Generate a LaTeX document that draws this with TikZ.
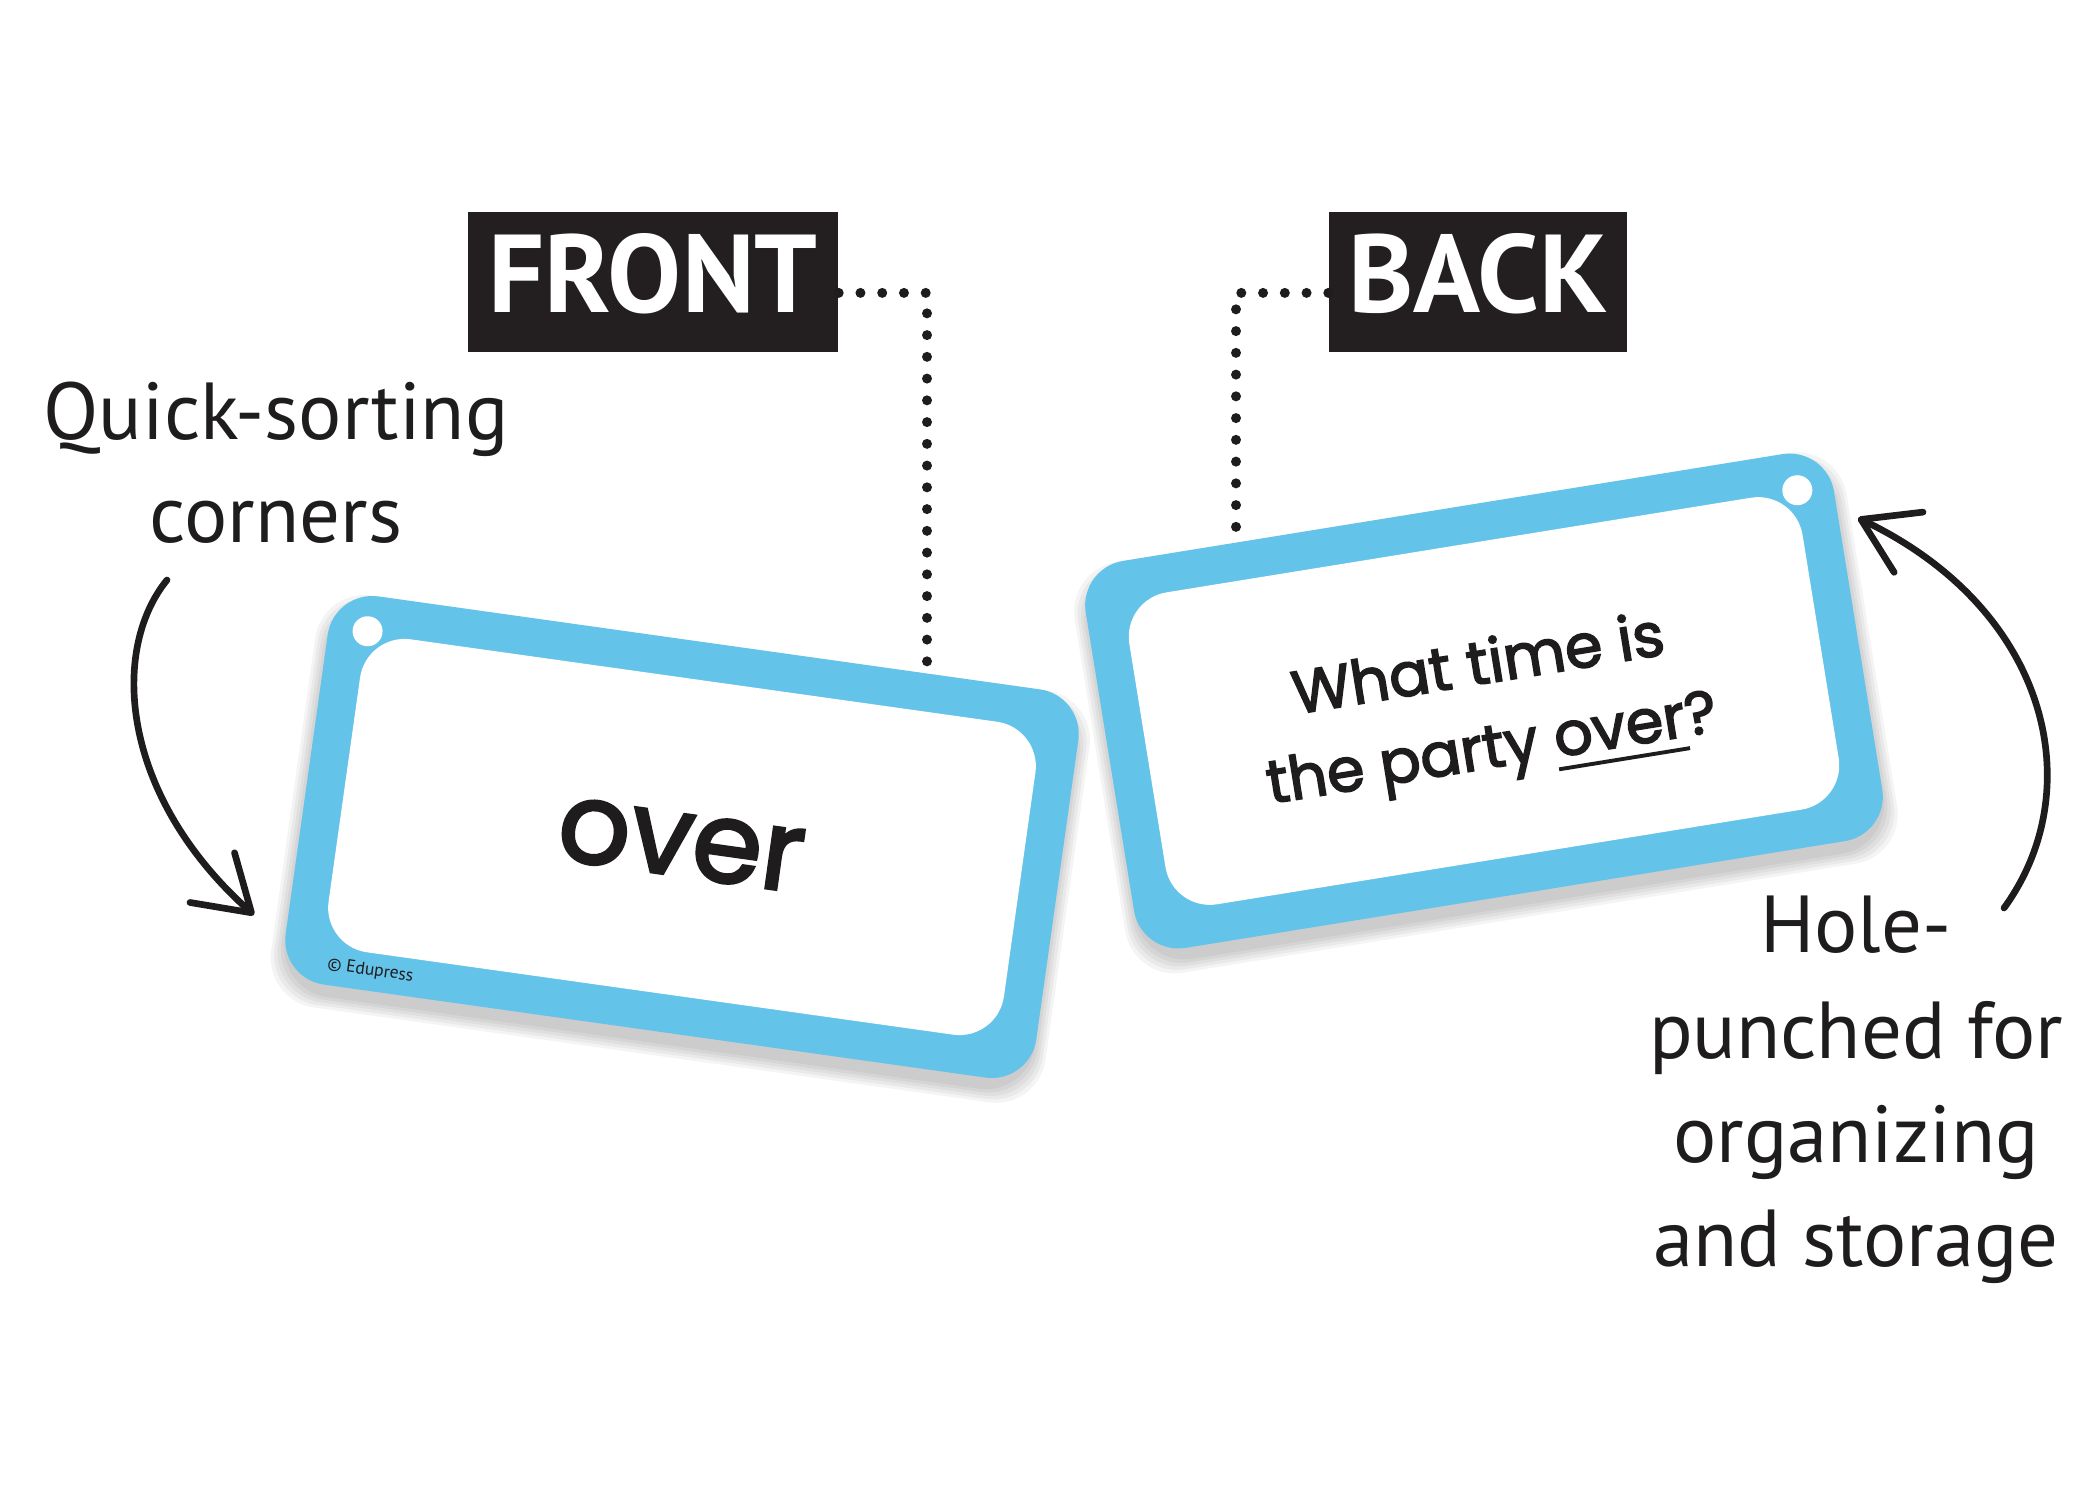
\documentclass[tikz,border=0pt]{standalone}
\usepackage{fontspec}
\setmainfont{PT Sans}
\newfontfamily\cardfont{Poppins}[FakeBold=2.6]
\usetikzlibrary{arrows.meta}
\definecolor{cardblue}{RGB}{100,195,233}
\definecolor{boxblack}{RGB}{35,31,32}
\definecolor{inkblack}{RGB}{30,28,29}
\newcommand\myul[1]{\setbox0=\hbox{#1}\rlap{\rule[-4pt]{\wd0}{1.1pt}}\box0}
\begin{document}
\begin{tikzpicture}[x=0.1mm,y=-0.1mm,
  tagbox/.style={fill=boxblack, text=white, font=\fontsize{31.5}{36}\selectfont\bfseries,
    minimum width=#1, minimum height=14mm, inner sep=0pt, text height=22.5pt, text depth=4.9pt},
  note/.style={font=\fontsize{23}{29}\selectfont, text=inkblack, anchor=base, inner sep=0pt},
  dotline/.style={draw=inkblack, line width=1mm, line cap=round, dash pattern=on 0pt off 2.175mm},
  curvearrow/.style={draw=inkblack, line width=1.9pt, line cap=round,
    -{Straight Barb[length=15pt,width=19pt,round]}},
  cardframe/.style={fill=cardblue, rounded corners=4.5mm, minimum width=75.8mm, minimum height=39.2mm, inner sep=0pt},
  cardpanel/.style={fill=white, rounded corners=4.5mm, minimum width=68.2mm, minimum height=31.6mm, inner sep=0pt},
  punch/.style={circle, fill=white, minimum size=3mm, inner sep=0pt},
  cardshadow/.style={fill=black, opacity=0.045, rounded corners=5mm},
  cardtext/.style={text=inkblack, inner sep=0pt},
]
\useasboundingbox (0,0) rectangle (2100,1500);

% ---------- FRONT card ----------
\begin{scope}[shift={(682,837)}, rotate=-8, transform shape]
  \foreach \k in {0,3,6,9,12}
    \fill[cardshadow] (-379-\k,-196-\k+12) rectangle (379+\k,196+\k+12);
  \node[cardframe] (frontcard) at (0,0) {};
  \node[cardpanel] (frontpanel) at (0,0) {};
  \node[punch] (fronthole) at (-340,-160) {};
  \node[cardtext, font=\cardfont\fontsize{32}{38}\selectfont] (frontword) at (0,8) {over};
  \node[cardtext, font=\fontsize{5}{6}\selectfont] (edupress) at (-290,176) {\textcopyright\ Edupress};
\end{scope}

% ---------- BACK card ----------
\begin{scope}[shift={(1484,701)}, rotate=9.2, transform shape]
  \foreach \k in {0,3,6,9,12}
    \fill[cardshadow] (-379-\k,-196-\k+12) rectangle (379+\k,196+\k+12);
  \node[cardframe] (backcard) at (0,0) {};
  \node[cardpanel] (backpanel) at (0,0) {};
  \node[punch] (backhole) at (343,-158) {};
  \node[cardtext, align=center, font=\cardfont\fontsize{17.2}{24}\selectfont] (backword) at (0,10)
    {What time is\\the party \myul{over}?};
\end{scope}

% ---------- tags ----------
\node[tagbox=37mm] (front) at (653,282) {FRONT};
\node[tagbox=29.8mm] (back) at (1478,282) {BACK};

\coordinate (frontpin) at (927,663);
\coordinate (backpin) at (1236,533);
\draw[dotline] ([yshift=-3.1pt]front.east) -| (frontpin);
\draw[dotline] ([yshift=-3.1pt]back.west) -| (backpin);

% ---------- notes ----------
\node[note] (qs1) at (276,439) {Quick-sorting};
\node[note] (qs2) at (276,542) {corners};
\node[note] (hp1) at (1856,952) {Hole-};
\node[note] (hp2) at (1856,1058) {punched for};
\node[note] (hp3) at (1856,1162) {organizing};
\node[note] (hp4) at (1856,1266) {and storage};

\coordinate (qsfrom) at (167,580);
\coordinate (qsto) at (254,915);
\draw[curvearrow] (qsfrom) .. controls (110,650) and (120,795) .. (qsto);

\coordinate (hpfrom) at (2004,908);
\coordinate (hpto) at (1858,518);
\draw[curvearrow] (hpfrom) .. controls (2090,790) and (2050,610) .. (hpto);
\end{tikzpicture}
\end{document}
